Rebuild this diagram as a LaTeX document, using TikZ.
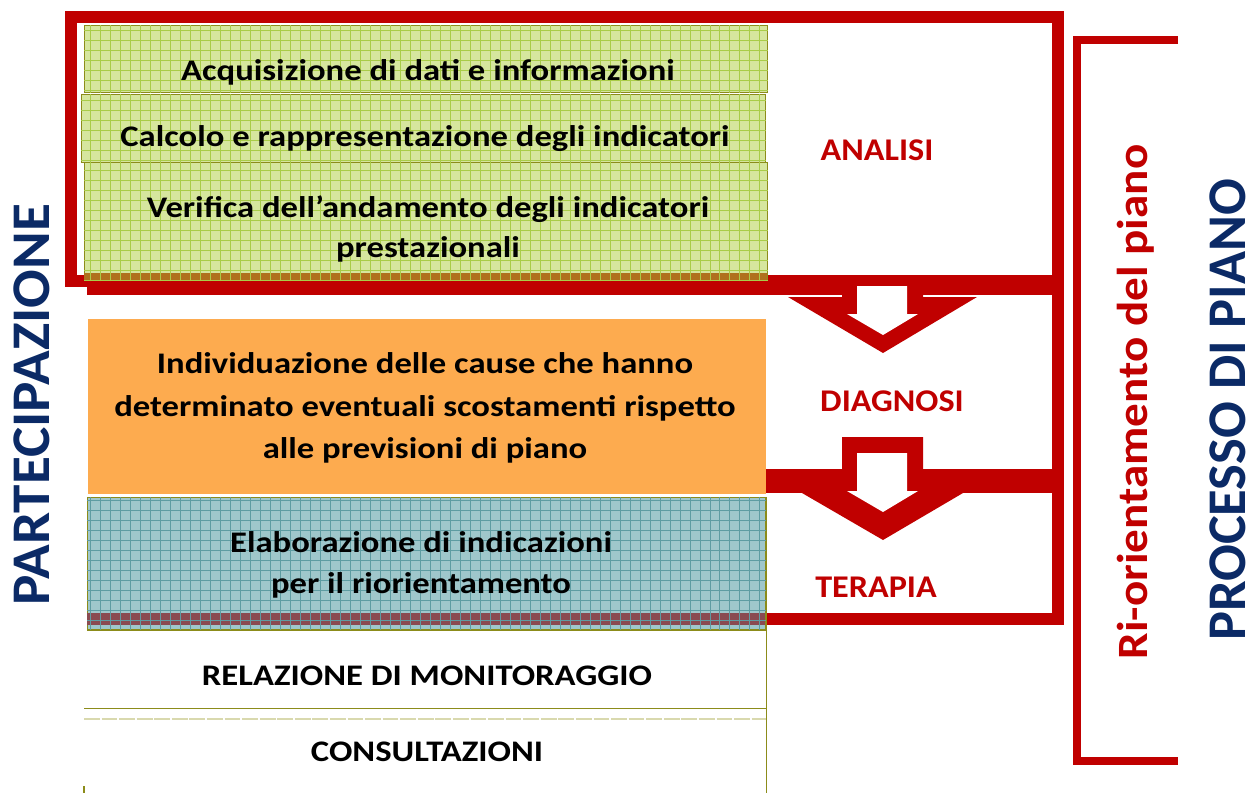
\documentclass[tikz,border=0pt]{standalone}
\usepackage{fontspec}
\setmainfont{Carlito}
\usetikzlibrary{positioning}

\definecolor{framered}{HTML}{C00000}
\definecolor{titleblue}{HTML}{0B2A66}
\definecolor{greenfill}{HTML}{D6E69E}
\definecolor{greengrid}{HTML}{A9CC48}
\definecolor{bluefill}{HTML}{9FC7CB}
\definecolor{bluegrid}{HTML}{5E9CA2}
\definecolor{orangefill}{HTML}{FDAB4F}
\definecolor{boxolive}{HTML}{8C8C1A}
\definecolor{paleolive}{HTML}{D9D9AE}
\definecolor{greenstrip}{HTML}{B0701E}
\definecolor{bluestrip}{HTML}{8A4A50}

\begin{document}
\begin{tikzpicture}[x=0.02cm, y=-0.02cm,
    redframe/.style={draw=framered, line width=6.8pt},
    bracketline/.style={draw=framered, line width=4.5pt},
    box/.style={draw=boxolive, line width=0.8pt, anchor=north west, inner sep=0pt},
    greenbox/.style={box, fill=greenfill},
    txt/.style={font=\fontsize{17}{23}\selectfont\bfseries, align=center, inner sep=0pt, xscale=1.16},
    phase/.style={font=\fontsize{18}{20}\selectfont\bfseries, text=framered, inner sep=0pt, xscale=1.08},
    title/.style={font=\fontsize{31}{34}\selectfont\bfseries, text=titleblue, rotate=90, inner sep=0pt}]
    \useasboundingbox (0,0) rectangle (1259,792);

    % red frames of the three phases
    \draw[redframe] (71,17) rectangle (1058,281);
    \draw[redframe] (87,289) -- (1058,289) -- (1058,475) -- (765,475);
    \draw[redframe] (765,487) -- (1058,487) -- (1058,619) -- (87,619);
    \draw[bracketline] (1178,40) -- (1077,40) -- (1077,761) -- (1178,761);

    % block arrows
    \fill[framered] (842,286) -- (923,286) -- (923,297) -- (977,297) -- (883,353) -- (788,297) -- (842,297) -- cycle;
    \fill[white] (857,286) -- (907,286) -- (907,314) -- (918,314) -- (883,335) -- (847,314) -- (857,314) -- cycle;
    \fill[framered] (842,437) -- (923,437) -- (923,493) -- (963,493) -- (883,540) -- (802,493) -- (842,493) -- cycle;
    \fill[white] (857,453) -- (907,453) -- (907,491) -- (918,491) -- (883,512) -- (847,491) -- (857,491) -- cycle;

    % analisi boxes
    \node[greenbox, minimum width=13.66cm, minimum height=1.34cm] (acq) at (84,25) {};
    \draw[greengrid, step=0.2cm] (acq.south west) grid (acq.north east);
    \node[greenbox, minimum width=13.68cm, minimum height=1.36cm] (calc) at (81,94) {};
    \draw[greengrid, step=0.2cm] (calc.south west) grid (calc.north east);
    \node[greenbox, minimum width=13.66cm, minimum height=2.36cm] (verif) at (84,162) {};
    \fill[greenstrip] (84,273) rectangle (767,280);
    \draw[greengrid, step=0.2cm] (verif.south west) grid (verif.north east);

    % diagnosi and terapia boxes
    \node[box, draw=none, fill=orangefill, minimum width=13.56cm, minimum height=3.5cm] (cause) at (87,318) {};
    \node[box, fill=bluefill, minimum width=13.56cm, minimum height=2.64cm] (elab) at (87,497) {};
    \fill[bluestrip] (87,613) rectangle (765,625);
    \draw[bluegrid, step=0.2cm] (elab.south west) grid (elab.north east);
    \draw[boxolive, line width=0.8pt] (elab.south west) -- (elab.south east) -- (elab.north east);

    % relazione and consultazioni
    \node[box, draw=none, minimum width=13.62cm, minimum height=1.54cm] (rel) at (84,630) {};
    \node[box, draw=none, minimum width=13.62cm, minimum height=1.46cm] (cons) at (84,719) {};
    \draw[boxolive, line width=0.8pt] (rel.south west) -- (rel.south east);
    \draw[boxolive, line width=0.8pt] (rel.north east) -- (cons.south east);
    \draw[paleolive, line width=1pt, dash pattern=on 9pt off 1pt] (cons.north west) -- (cons.north east);
    \draw[boxolive, line width=0.8pt] (84,786) -- (cons.south west);

    % texts
    \node[txt] (acq-t) at (428,72) {Acquisizione di dati e informazioni};
    \node[txt] (calc-t) at (425,139) {Calcolo e rappresentazione degli indicatori};
    \node[txt] (verif-t) at (428,229) {Verifica dell’andamento degli indicatori\\prestazionali};
    \node[txt, font=\fontsize{17}{24}\selectfont\bfseries] (cause-t) at (425,408) {Individuazione delle cause che hanno\\determinato eventuali scostamenti rispetto\\alle previsioni di piano};
    \node[txt] (elab-t) at (421,565) {Elaborazione di indicazioni\\per il riorientamento};
    \node[txt] (rel-t) at (427,676) {RELAZIONE DI MONITORAGGIO};
    \node[txt] (cons-t) at (427,752) {CONSULTAZIONI};

    \node[phase] (analisi) at (877,150) {ANALISI};
    \node[phase] (diagnosi) at (892,401) {DIAGNOSI};
    \node[phase] (terapia) at (876,587) {TERAPIA};

    \node[title, text=framered, font=\fontsize{24.6}{28}\selectfont\bfseries] (riorient) at (1136,402) {\scalebox{1.09}[1]{Ri-orientamento del piano}};
    \node[title] (processo) at (1228,410) {PROCESSO DI PIANO};
    \node[title] (partecip) at (32,405) {\scalebox{1.05}[1]{PARTECIPAZIONE}};
\end{tikzpicture}
\end{document}
